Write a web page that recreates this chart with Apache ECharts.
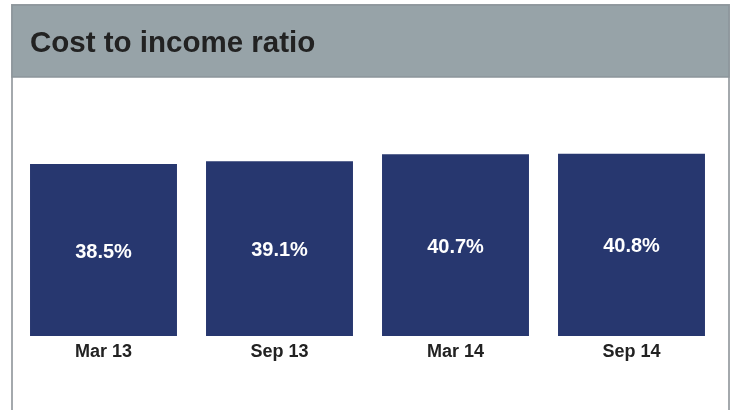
<!DOCTYPE html>
<html><head><meta charset="utf-8">
<script src="https://cdn.jsdelivr.net/npm/echarts@6/dist/echarts.min.js"></script>
<style>html,body{margin:0;padding:0;background:#fff}#c{width:734px;height:410px}</style>
</head><body><div id="c"></div>
<script>
const categories = ['Mar 13', 'Sep 13', 'Mar 14', 'Sep 14'];
const ratioValues = [38.5, 39.1, 40.7, 40.8];
const titleText = 'Cost to income ratio';

const chart = echarts.init(document.getElementById('c'), null, {renderer: 'canvas'});
chart.setOption({
  animation: false,
  backgroundColor: '#ffffff',
  graphic: [
    {type: 'rect', shape: {x: 12, y: 5, width: 717, height: 420}, style: {fill: '#ffffff', stroke: '#a4a9ad', lineWidth: 2}, z: -10},
    {type: 'rect', shape: {x: 12, y: 5, width: 717, height: 72}, style: {fill: '#97a3a8', stroke: '#8c959a', lineWidth: 1.5}, z: -5},
    {type: 'text', x: 30, y: 44, style: {text: titleText, fill: '#222222', font: 'bold 29.5px "Liberation Sans", Arial, sans-serif', textVerticalAlign: 'middle'}}
  ],
  grid: {left: 15.5, width: 704, top: 112.6, bottom: 74, containLabel: false},
  xAxis: {
    type: 'category', data: categories,
    axisLine: {show: false}, axisTick: {show: false},
    axisLabel: {color: '#222222', fontWeight: 'bold', fontSize: 18, fontFamily: '"Liberation Sans", Arial, sans-serif', margin: 7}
  },
  yAxis: {type: 'value', min: 0, max: 50, show: false, splitLine: {show: false}},
  series: [{
    type: 'bar', data: ratioValues, barCategoryGap: '16.5%',
    itemStyle: {color: '#27376f'},
    label: {show: true, position: 'inside', offset: [0, 2], formatter: p => p.value.toFixed(1) + '%', color: '#ffffff', fontWeight: 'bold', fontSize: 20, fontFamily: '"Liberation Sans", Arial, sans-serif'}
  }]
});
</script></body></html>
